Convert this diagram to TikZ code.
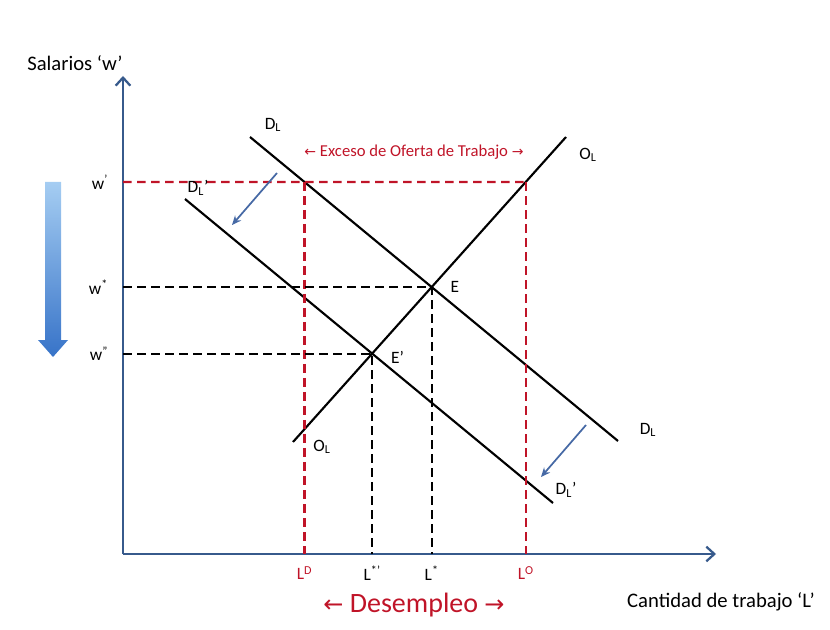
\documentclass[tikz,border=0pt]{standalone}
\usepackage{fontspec}
\setmainfont{Carlito}
\newfontfamily\arrowfont{DejaVu Sans}
\usepackage{tikz}
\usetikzlibrary{arrows.meta, positioning}
\usepackage{xcolor}
\definecolor{axisblue}{RGB}{55,90,140}
\definecolor{exred}{RGB}{192,20,40}
\definecolor{shiftblue}{RGB}{70,105,165}
\definecolor{bigtop}{RGB}{165,205,242}
\definecolor{bigbot}{RGB}{55,115,200}

\begin{document}
\begin{tikzpicture}[
  x=0.75pt, y=-0.75pt,
  axis/.style={line width=2pt, axisblue, -{Straight Barb[length=6pt,width=11pt,line width=1.7pt]}},
  curve/.style={line width=1.6pt, black},
  guide/.style={line width=1.6pt, black, dash pattern=on 6.5pt off 4pt},
  redguide/.style={guide, draw=exred},
  shiftarrow/.style={line width=1.3pt, shiftblue, -{Stealth[length=7pt,width=6pt]}},
  lbl/.style={inner sep=1pt, font=\fontsize{13}{15}\selectfont},
  big/.style={inner sep=1pt, font=\fontsize{15.5}{18}\selectfont}
]
\useasboundingbox (0,0) rectangle (830,630);

% axes
\coordinate (O) at (123,554);
\coordinate (ytop) at (123,76);
\coordinate (xend) at (716,554);
\draw[axis] (O) -- (ytop);
\draw[axis] (O) -- (xend);
\node[big] (ylabel) at (75,63) {Salarios ‘w’};
\node[big] (xlabel) at (721,602) {Cantidad de trabajo ‘L’};

% curves
\coordinate (Da) at (250,137);
\coordinate (Db) at (618,441);
\coordinate (Dpa) at (185,199);
\coordinate (Dpb) at (553,503);
\coordinate (Sa) at (293,442);
\coordinate (Sb) at (566,137);
\draw[curve] (Da) -- (Db);
\draw[curve] (Dpa) -- (Dpb);
\draw[curve] (Sa) -- (Sb);

\coordinate (E)  at (intersection of Sa--Sb and Da--Db);
\coordinate (Ep) at (intersection of Sa--Sb and Dpa--Dpb);
\coordinate (LDtop) at (intersection of Da--Db and 0,182--800,182);
\coordinate (LOtop) at (intersection of Sa--Sb and 0,182--800,182);

% red guides (w')
\draw[redguide] (O |- LDtop) -- (LOtop);
\draw[redguide] (LDtop) -- (LDtop |- O);
\draw[redguide] (LOtop) -- (LOtop |- O);

% black guides
\draw[guide] (O |- E) -- (E) -- (E |- O);
\draw[guide] (O |- Ep) -- (Ep) -- (Ep |- O);

% labels on the axes
\node[lbl, left=10pt of {O |- LDtop}] (wp)  {w\textsuperscript{'}};
\node[lbl, left=10pt of {O |- E}]     (ws)  {w\textsuperscript{*}};
\node[lbl, left=10pt of {O |- Ep}]    (wpp) {w\textsuperscript{''}};
\node[lbl, below=8pt of {LDtop |- O}, text=exred] (LD)  {L\textsuperscript{D}};
\node[lbl, below=8pt of {Ep |- O}]                (Lsp) {L\textsuperscript{*'}};
\node[lbl, below=8pt of {E |- O}]                 (Ls)  {L\textsuperscript{*}};
\node[lbl, below=8pt of {LOtop |- O}, text=exred] (LO)  {L\textsuperscript{O}};

% curve labels
\node[lbl] (DLa)  at (273,125) {D\textsubscript{L}};
\node[lbl] (DpLa) at (198,188) {D\textsubscript{L}’};
\node[lbl] (OLa)  at (588,155) {O\textsubscript{L}};
\node[lbl] (OLb)  at (322,447) {O\textsubscript{L}};
\node[lbl] (DLb)  at (648,430) {D\textsubscript{L}};
\node[lbl] (DpLb) at (566,490) {D\textsubscript{L}’};
\node[lbl, right=13pt of E]  (Elbl)  {E};
\node[lbl, right=13pt of Ep, yshift=-3pt] (Eplbl) {E’};

% shift of demand
\coordinate (s1a) at (277,173);
\coordinate (s1b) at (232,225);
\coordinate (s2a) at (586,425);
\coordinate (s2b) at (541,477);
\draw[shiftarrow] (s1a) -- (s1b);
\draw[shiftarrow] (s2a) -- (s2b);

% excess and unemployment
\node[lbl, text=exred, font=\fontsize{12.5}{15}\selectfont] (exceso) at (414,152)
  {{\arrowfont\fontsize{10.5}{12}\selectfont ←} Exceso de Oferta de Trabajo {\arrowfont\fontsize{10.5}{12}\selectfont →}};
\node[inner sep=1pt, text=exred, font=\fontsize{21}{25}\selectfont] (desempleo) at (414,605)
  {{\arrowfont\fontsize{18}{21}\selectfont ←} Desempleo {\arrowfont\fontsize{18}{21}\selectfont →}};

% wage falls
\shade[top color=bigtop, bottom color=bigbot]
  (45,182) -- (61,182) -- (61,340) -- (68,340) -- (53,357) -- (38,340) -- (45,340) -- cycle;
\end{tikzpicture}
\end{document}
